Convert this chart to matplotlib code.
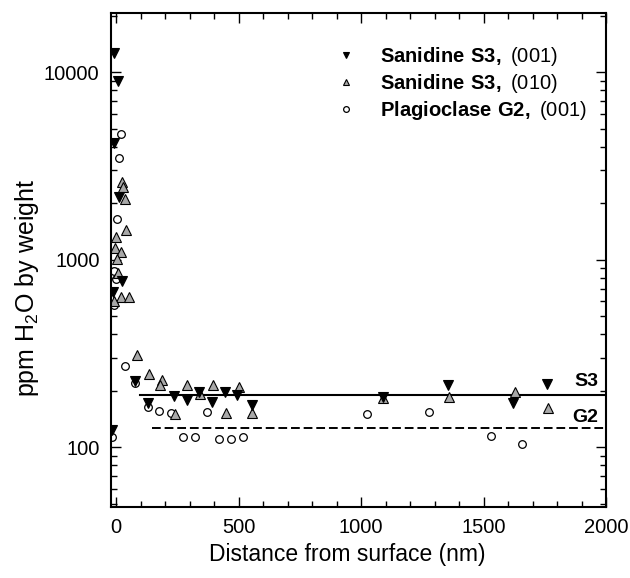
import matplotlib
matplotlib.use("Agg")
import matplotlib.pyplot as plt
from matplotlib.ticker import MultipleLocator, LogLocator, NullFormatter, FixedLocator

plt.rcParams['font.family'] = ['Liberation Sans', 'DejaVu Sans']
plt.rcParams['mathtext.fontset'] = 'custom'
plt.rcParams['mathtext.rm'] = 'Liberation Sans'
plt.rcParams['mathtext.bf'] = 'Liberation Sans:bold'
plt.rcParams['mathtext.default'] = 'regular'

# Sanidine S3, (001)  - filled down triangles
s3_001_x = [-7, 7, -7, 13, 24, -11, -15, 78, 132, 237, 288, 340, 393, 445, 495, 554,
            1088, 1356, 1622, 1758]
s3_001_y = [12700, 9000, 4200, 2170, 770, 673, 124, 226, 172, 187, 178, 197, 175, 197, 190, 167,
            185, 214, 173, 218]

# Sanidine S3, (010)  - grey up triangles
s3_010_x = [26, 30, 37, 41, -2, -6, 21, 5, 9, 19, 54, -8,
            84, 136, 189, 180, 241, 291, 343, 397, 448, 502, 556,
            1091, 1359, 1629, 1762]
s3_010_y = [2600, 2450, 2120, 1445, 1320, 1160, 1105, 1010, 855, 630, 630, 600,
            309, 245, 227, 214, 151, 214, 193, 214, 153, 209, 153,
            184, 185, 197, 162]

# Plagioclase G2, (001) - open circles
g2_x = [19, 13, 5, -8, 0, -8, -15, 37, 78, 129, 176, 223, 275, 322, 373, 420, 469, 520,
        1026, 1278, 1529, 1658]
g2_y = [4660, 3500, 1650, 870, 785, 577, 113, 270, 221, 164, 157, 153, 114, 113, 155, 110, 110, 113,
        150, 154, 115, 104]

# plateau levels
s3_level = 190
s3_range = [98, 2000]
g2_level = 127
g2_range = [147, 2000]

fig = plt.figure(figsize=(6.3, 5.78), dpi=100)
ax = fig.add_axes([0.1757, 0.1228, 0.7862, 0.8547])

ax.plot(s3_range, [s3_level, s3_level], color='black', lw=1.5)
ax.plot(g2_range, [g2_level, g2_level], color='black', lw=1.4, dashes=(4.5, 2))

ax.plot(g2_x, g2_y, 'o', ms=5.5, mfc='white', mec='black', mew=0.9, ls='none',
        label=r'$\mathbf{Plagioclase\ G2,}$ (001)')
ax.plot(s3_010_x, s3_010_y, '^', ms=6.5, mfc='#a8a8a8', mec='black', mew=0.8, ls='none',
        label=r'$\mathbf{Sanidine\ S3,}$ (010)')
ax.plot(s3_001_x, s3_001_y, 'v', ms=6.5, mfc='black', mec='black', mew=0.8, ls='none',
        label=r'$\mathbf{Sanidine\ S3,}$ (001)')

ax.text(0.984, 0.236, 'S3', transform=ax.transAxes, fontsize=14, fontweight='bold',
        ha='right', va='bottom')
ax.text(0.984, 0.165, 'G2', transform=ax.transAxes, fontsize=14, fontweight='bold',
        ha='right', va='bottom')

ax.set_yscale('log')
ax.set_xlim(-22, 2000)
ax.set_ylim(48, 20700)

ax.xaxis.set_major_locator(MultipleLocator(500))
ax.xaxis.set_minor_locator(MultipleLocator(100))
ax.yaxis.set_major_locator(FixedLocator([100, 1000, 10000]))
ax.yaxis.set_major_formatter(matplotlib.ticker.FuncFormatter(lambda v, p: '%d' % v))
ax.yaxis.set_minor_locator(LogLocator(base=10, subs=range(2, 10)))
ax.yaxis.set_minor_formatter(NullFormatter())

ax.tick_params(which='both', direction='in', top=True, right=True, width=1.0, labelsize=14.5)
ax.tick_params(which='major', length=7, pad=8)
ax.tick_params(which='minor', length=4)
for sp in ax.spines.values():
    sp.set_linewidth(1.5)

ax.set_xlabel('Distance from surface (nm)', fontsize=16.5)
ax.set_ylabel('ppm H$_2$O by weight', fontsize=18)
ax.xaxis.set_label_coords(0.477, -0.073)
ax.yaxis.set_label_coords(-0.14, 0.443)

h, l = ax.get_legend_handles_labels()
leg = ax.legend(h[::-1], l[::-1], loc='upper left', bbox_to_anchor=(0.455, 0.935),
                frameon=False, fontsize=14.5, markerscale=0.75, handlelength=1.0,
                handletextpad=1.2, labelspacing=0.2, borderpad=0, borderaxespad=0)

fig.savefig('out.png', dpi=100)
